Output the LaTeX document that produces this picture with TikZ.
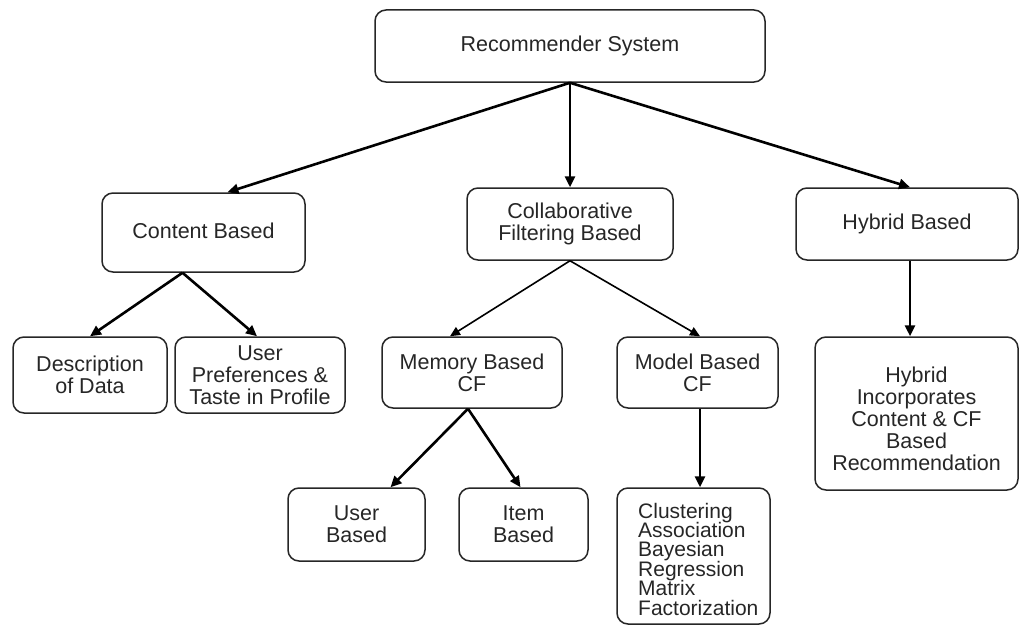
\documentclass[tikz,border=0pt]{standalone}
\usepackage{fontspec}
\setmainfont{Liberation Sans}
\usetikzlibrary{arrows.meta}
\definecolor{ink}{HTML}{262626}
\tikzset{
  box/.style={draw=ink, line width=1.5pt, rounded corners=11pt, inner sep=0pt,
    align=center, text=ink, font=\fontsize{21.5}{22}\selectfont},
  conn/.style={draw=black, line width=2.6pt, -{Triangle[length=11pt,width=10pt]}},
  thin/.style={draw=black, line width=1.6pt, -{Triangle[length=10pt,width=9pt]}}
}
\begin{document}
\begin{tikzpicture}[x=1pt,y=-1pt]
\useasboundingbox (0,0) rectangle (1019,626);
\node[box, minimum width=390pt, minimum height=72pt] (root) at (570,46) {Recommender System};
\node[box, minimum width=203pt, minimum height=79pt] (cb) at (203.5,232.5) {\raisebox{4pt}{Content Based}};
\node[box, minimum width=206pt, minimum height=72pt] (cf) at (570,224) {Collaborative\\Filtering Based};
\node[box, minimum width=222pt, minimum height=72pt] (hb) at (907,224) {Hybrid Based};
\node[box, minimum width=154pt, minimum height=76pt] (desc) at (90,375) {Description\\of Data};
\node[box, minimum width=170pt, minimum height=76pt] (up) at (260,375) {User\\Preferences \&\\Taste in Profile};
\node[box, minimum width=180pt, minimum height=71pt] (mem) at (472,372.5) {Memory Based\\CF};
\node[box, minimum width=161pt, minimum height=71pt] (mod) at (697.5,372.5) {Model Based\\CF};
\node[box, minimum width=137pt, minimum height=73pt] (user) at (356.5,524.5) {User\\Based};
\node[box, minimum width=129pt, minimum height=73pt] (item) at (523.5,524.5) {Item\\Based};
\node[box, minimum width=153pt, minimum height=136pt] (clus) at (693.5,556) {};
\node[text=ink, align=left, anchor=west, inner sep=0pt,
  font=\lineskiplimit-30pt\fontsize{21}{19.4}\selectfont] (clustxt) at (638,559)
  {Clustering\\Association\\Bayesian\\Regression\\Matrix\\Factorization};
\node[box, minimum width=203pt, minimum height=153pt] (hyb) at (916.5,413.5) {\rule{0pt}{26pt}Hybrid\\Incorporates\\Content \& CF\\Based\\Recommendation};

\draw[conn] (root.south) -- ([xshift=24pt]cb.north);
\draw[conn] (root.south) -- (cf.north);
\draw[conn] (root.south) -- ([xshift=3pt]hb.north);
\draw[conn] ([xshift=-21pt]cb.south) -- (desc.north);
\draw[conn] ([xshift=-21pt]cb.south) -- ([xshift=-3pt]up.north);
\draw[thin] (cf.south) -- ([xshift=-22pt]mem.north);
\draw[thin] (cf.south) -- ([xshift=2.5pt]mod.north);
\draw[conn] ([xshift=-4pt]mem.south) -- ([xshift=34pt]user.north);
\draw[conn] ([xshift=-4pt]mem.south) -- ([xshift=-3pt]item.north);
\draw[conn] ([xshift=2.5pt]mod.south) -- ([xshift=2.5pt]mod.south |- clus.north);
\draw[conn] ([xshift=3pt]hb.south) -- ([xshift=3pt]hb.south |- hyb.north);
\end{tikzpicture}
\end{document}
